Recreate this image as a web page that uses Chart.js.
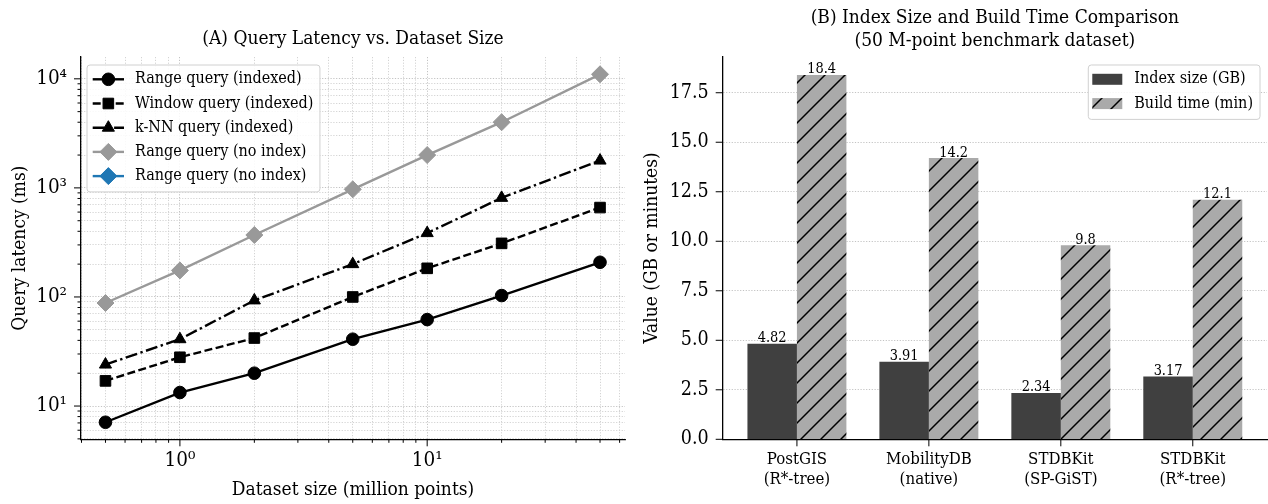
<!DOCTYPE html>
<html>
<head>
<meta charset="utf-8">
<script src="https://cdn.jsdelivr.net/npm/chart.js@4.4.1/dist/chart.umd.min.js"></script>
<style>
  html, body { margin: 0; padding: 0; background: #fff; }
  #wrap { position: relative; width: 1268px; height: 504px; }
  canvas { position: absolute; top: 0; }
  #latencyChart { left: 0; }
  #indexChart { left: 640px; }
</style>
</head>
<body>
<div id="wrap">
  <canvas id="latencyChart" width="640" height="504"></canvas>
  <canvas id="indexChart" width="628" height="504"></canvas>
</div>
<script>
// Panel A: query latency (ms) vs dataset size (million points), log-log
const datasetSizes = [0.5, 1, 2, 5, 10, 20, 50];
const rangeIndexed = [7.1, 13.3, 20, 41, 62, 103, 208];
const windowIndexed = [17, 28, 42, 100, 183, 310, 660];
const knnIndexed = [24, 41, 93, 200, 385, 810, 1780];
const rangeNoIndex = [88, 175, 370, 970, 2000, 4000, 11000];
const xPowerLabels = { 0: "10\u2070", 1: "10\u00b9" };
const yPowerLabels = { 1: "10\u00b9", 2: "10\u00b2", 3: "10\u00b3", 4: "10\u2074" };

// Panel B: index size and build time, 50 M-point dataset
const systems = [["PostGIS", "(R*-tree)"], ["MobilityDB", "(native)"], ["STDBKit", "(SP-GiST)"], ["STDBKit", "(R*-tree)"]];
const indexSizeGB = [4.82, 3.91, 2.34, 3.17];
const buildTimeMin = [18.4, 14.2, 9.8, 12.1];

const SERIF = "'DejaVu Serif Condensed', 'DejaVu Serif', serif";
Chart.defaults.font.family = SERIF;
Chart.defaults.color = "#000";

// matplotlib-style log ticks: 1..9 x 10^k inside the axis range
function logTicks(scale) {
  const ticks = [];
  const lo = Math.floor(Math.log10(scale.min));
  const hi = Math.ceil(Math.log10(scale.max));
  for (let e = lo; e <= hi; e++) {
    for (let d = 1; d <= 9; d++) {
      const v = d * Math.pow(10, e);
      if (v >= scale.min && v <= scale.max) ticks.push({ value: v, major: d === 1 });
    }
  }
  scale.ticks = ticks;
}

function powerLabel(map) {
  return (v) => {
    const l = Math.log10(v), e = Math.round(l);
    return Math.abs(l - e) < 1e-9 && map[e] ? map[e] : "";
  };
}

// outward tick marks, long for major, short for minor (log) ticks
const tickMarks = {
  id: "tickMarks",
  afterDraw(chart) {
    const ctx = chart.ctx;
    ctx.save();
    ctx.strokeStyle = "#000";
    ctx.lineWidth = 1;
    ["x", "y"].forEach((id) => {
      const s = chart.scales[id];
      s.ticks.forEach((t) => {
        const len = s.type === "logarithmic" && !t.major ? 3.5 : 7;
        const p = s.getPixelForValue(t.value);
        ctx.beginPath();
        if (id === "x") { ctx.moveTo(p, s.top); ctx.lineTo(p, s.top + len); }
        else { ctx.moveTo(s.right, p); ctx.lineTo(s.right - len, p); }
        ctx.stroke();
      });
    });
    ctx.restore();
  },
};

function roundRect(ctx, x, y, w, h, r) {
  ctx.beginPath();
  ctx.moveTo(x + r, y);
  ctx.arcTo(x + w, y, x + w, y + h, r);
  ctx.arcTo(x + w, y + h, x, y + h, r);
  ctx.arcTo(x, y + h, x, y, r);
  ctx.arcTo(x, y, x + w, y, r);
  ctx.closePath();
}

// boxed legend inside the plot, matplotlib look
const boxLegend = {
  id: "boxLegend",
  afterDraw(chart, args, o) {
    const ctx = chart.ctx, area = chart.chartArea;
    const items = chart.data.datasets;
    ctx.save();
    ctx.font = o.font;
    const textW = Math.max(...items.map((d) => ctx.measureText(d.label).width));
    const w = o.textX + textW + o.padRight;
    const h = o.firstRow * 2 + o.rowH * (items.length - 1) + 1.5;
    const x = o.right ? area.right - o.dx - w : area.left + o.dx;
    const y = area.top + o.dy;
    roundRect(ctx, x, y, w, h, 3);
    ctx.fillStyle = "rgba(255,255,255,0.85)";
    ctx.fill();
    ctx.strokeStyle = "#d0d0d0";
    ctx.lineWidth = 1;
    ctx.stroke();
    items.forEach((d, i) => {
      const cy = y + o.firstRow + i * o.rowH;
      if (o.kind === "line") {
        ctx.strokeStyle = d.borderColor;
        ctx.lineWidth = d.borderWidth;
        ctx.setLineDash(d.borderDash || []);
        ctx.beginPath();
        ctx.moveTo(x + o.sym0, cy);
        ctx.lineTo(x + o.sym1, cy);
        ctx.stroke();
        ctx.setLineDash([]);
        ctx.fillStyle = d.backgroundColor;
        ctx.lineWidth = 1;
        Chart.helpers.drawPoint(ctx, { pointStyle: d.pointStyle, radius: d.pointRadius, rotation: 0, borderWidth: 1 },
          x + (o.sym0 + o.sym1) / 2, cy);
      } else {
        ctx.fillStyle = d.backgroundColor;
        ctx.fillRect(x + o.sym0, cy - 5.5, o.sym1 - o.sym0, 11);
      }
      ctx.fillStyle = "#000";
      ctx.textBaseline = "middle";
      ctx.textAlign = "left";
      ctx.fillText(d.label, x + o.textX, cy);
    });
    ctx.restore();
  },
};

// value labels on top of bars
const barValues = {
  id: "barValues",
  afterDatasetsDraw(chart, args, o) {
    const ctx = chart.ctx;
    ctx.save();
    ctx.font = o.font;
    ctx.fillStyle = "#000";
    ctx.textAlign = "center";
    ctx.textBaseline = "alphabetic";
    chart.data.datasets.forEach((ds, di) => {
      chart.getDatasetMeta(di).data.forEach((el, i) => {
        ctx.fillText(String(ds.data[i].y), el.x, el.y - 1.5);
      });
    });
    ctx.restore();
  },
};

const gridDash = [1.2, 1.6];

function lineSeries(label, values, color, dash, style, radius) {
  return {
    label,
    data: values.map((y, i) => ({ x: datasetSizes[i], y })),
    borderColor: color,
    backgroundColor: color,
    borderWidth: 2.4,
    borderDash: dash,
    pointStyle: style,
    pointRadius: radius,
    pointBorderWidth: 1,
    pointBorderColor: color,
    tension: 0,
    fill: false,
  };
}

new Chart(document.getElementById("latencyChart"), {
  type: "line",
  data: {
    datasets: [
      lineSeries("Range query (indexed)", rangeIndexed, "#000", [], "circle", 6.3),
      lineSeries("Window query (indexed)", windowIndexed, "#000", [8, 3.5], "rect", 7.5),
      lineSeries("k-NN query (indexed)", knnIndexed, "#000", [12, 3.5, 2.4, 3.5], "triangle", 7),
      lineSeries("Range query (no index)", rangeNoIndex, "#999999", [], "rectRot", 8.5),
      { label: "Range query (no index)", data: [], borderColor: "#1f77b4", backgroundColor: "#1f77b4",
        borderWidth: 2.4, pointStyle: "rectRot", pointRadius: 8.5 },
    ],
  },
  options: {
    responsive: false,
    animation: false,
    devicePixelRatio: 1,
    layout: { padding: { left: 0, right: 15, top: 0, bottom: 0 } },
    plugins: {
      legend: { display: false },
      tooltip: { enabled: false },
      title: {
        display: true,
        text: "(A) Query Latency vs. Dataset Size",
        fullSize: false,
        font: { size: 19, weight: "normal", lineHeight: 1.2 },
        padding: { top: 27.6, bottom: 6.6 },
      },
      boxLegend: { kind: "line", font: "16px " + SERIF, dx: 6, dy: 8, firstRow: 14.3, rowH: 24.2,
        sym0: 5.7, sym1: 37, textX: 48, padRight: 6.5 },
    },
    scales: {
      x: {
        type: "logarithmic",
        min: Math.pow(10, -0.4),
        max: Math.pow(10, 1.8),
        afterBuildTicks: logTicks,
        afterFit: (s) => { s.height = 64.7; },
        grid: { drawTicks: false, lineWidth: 0.8, color: (c) => (c.tick && c.tick.major ? "#b4b4b4" : "#c8c8c8") },
        border: { display: true, color: "#000", width: 1.3, dash: gridDash },
        ticks: { autoSkip: false, maxRotation: 0, padding: 9.4, font: { size: 20.5 }, callback: powerLabel(xPowerLabels) },
        title: { display: true, text: "Dataset size (million points)", font: { size: 19 }, padding: { bottom: 2.6 } },
      },
      y: {
        type: "logarithmic",
        min: Math.pow(10, 0.695),
        max: Math.pow(10, 4.2),
        afterBuildTicks: logTicks,
        afterFit: (s) => { s.width = 81; },
        grid: { drawTicks: false, lineWidth: 0.8, color: (c) => (c.tick && c.tick.major ? "#b4b4b4" : "#c8c8c8") },
        border: { display: true, color: "#000", width: 1.3, dash: gridDash },
        ticks: { autoSkip: false, padding: 14, font: { size: 20.5 }, callback: powerLabel(yPowerLabels) },
        title: { display: true, text: "Query latency (ms)", font: { size: 19 }, padding: { top: 8.6 } },
      },
    },
  },
  plugins: [tickMarks, boxLegend],
});

// hatch pattern "/" for build time bars
const barCanvas = document.getElementById("indexChart");
function hatchPattern(ctx) {
  const tile = document.createElement("canvas");
  tile.width = 20; tile.height = 20;
  const g = tile.getContext("2d");
  g.fillStyle = "#aaaaaa";
  g.fillRect(0, 0, 20, 20);
  g.strokeStyle = "#000";
  g.lineWidth = 1.5;
  g.beginPath();
  [0, 20, 40].forEach((k) => { g.moveTo(k + 5, -5); g.lineTo(-5, k + 5); });
  g.stroke();
  return ctx.createPattern(tile, "repeat");
}

new Chart(barCanvas, {
  type: "bar",
  data: {
    datasets: [
      { label: "Index size (GB)", data: indexSizeGB.map((y, i) => ({ x: i, y })), backgroundColor: "#404040",
        categoryPercentage: 0.75, barPercentage: 1.0, borderWidth: 0 },
      { label: "Build time (min)", data: buildTimeMin.map((y, i) => ({ x: i, y })),
        backgroundColor: hatchPattern(barCanvas.getContext("2d")),
        categoryPercentage: 0.75, barPercentage: 1.0, borderWidth: 0 },
    ],
  },
  options: {
    responsive: false,
    animation: false,
    devicePixelRatio: 1,
    layout: { padding: { left: 0, right: 1, top: 0, bottom: 0 } },
    plugins: {
      legend: { display: false },
      tooltip: { enabled: false },
      title: {
        display: true,
        text: ["(B) Index Size and Build Time Comparison", "(50 M-point benchmark dataset)"],
        fullSize: false,
        font: { size: 19, weight: "normal", lineHeight: 1.184 },
        padding: { top: 7.05, bottom: 4.65 },
      },
      boxLegend: { kind: "box", right: true, font: "16px " + SERIF, dx: 7, dy: 8.3, firstRow: 14.3, rowH: 24.3,
        sym0: 4, sym1: 34, textX: 46, padRight: 7 },
      barValues: { font: "14.4px " + SERIF },
    },
    scales: {
      x: {
        type: "linear",
        offset: false,
        z: 1,
        min: -0.5625,
        max: 3.5625,
        afterBuildTicks: (s) => { s.ticks = systems.map((_, i) => ({ value: i, major: true })); },
        afterFit: (s) => { s.height = 64.7; },
        grid: { display: false, drawTicks: false, offset: false },
        border: { display: true, color: "#000", width: 1.3 },
        ticks: { autoSkip: false, maxRotation: 0, padding: 10.7, font: { size: 16.7, lineHeight: 1.2 },
          callback: (v) => systems[v] || "" },
      },
      y: {
        type: "linear",
        min: 0,
        max: 19.32,
        afterFit: (s) => { s.width = 82.7; },
        grid: { drawTicks: false, lineWidth: 0.8, color: "#b4b4b4" },
        border: { display: true, color: "#000", width: 1.3, dash: gridDash },
        ticks: { stepSize: 2.5, includeBounds: false, padding: 14, font: { size: 19.5 }, callback: (v) => v.toFixed(1) },
        title: { display: true, text: "Value (GB or minutes)", font: { size: 19 }, padding: { top: 0.6 } },
      },
    },
  },
  plugins: [tickMarks, boxLegend, barValues],
});
</script>
</body>
</html>
